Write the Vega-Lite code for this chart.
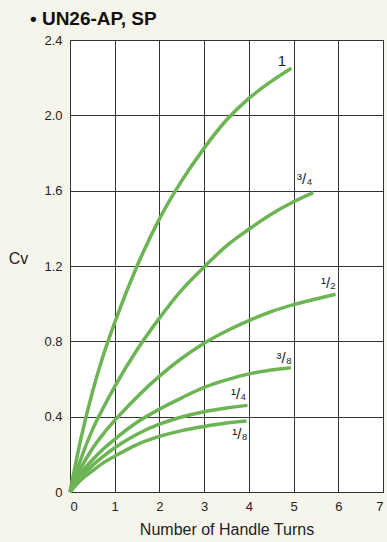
{
  "$schema": "https://vega.github.io/schema/vega-lite/v6.json",
  "width": 313,
  "height": 452,
  "autosize": {"type": "none"},
  "padding": {"left": 70, "top": 40, "right": 4, "bottom": 50},
  "background": "#f6f5ec",
  "config": {
    "view": {"fill": "white", "stroke": "#333", "strokeWidth": 1},
    "font": "Liberation Sans",
    "axis": {"gridColor": "#333", "gridOpacity": 1, "gridWidth": 1, "domain": false, "ticks": false, "labelColor": "#222", "titleColor": "#222", "labelFont": "Liberation Sans", "titleFont": "Liberation Sans", "labelFontSize": 13, "titleFontWeight": "normal", "titleFontSize": 16}
  },
  "title": {"text": "• UN26-AP, SP", "anchor": "start", "frame": "group", "fontSize": 19, "fontWeight": "bold", "font": "Liberation Sans", "color": "#111", "dx": -40, "offset": 0, "baseline": "alphabetic", "dy": 10},
  "datasets": {
    "curves": [
      {"c": "1", "x": 0, "y": 0}, {"c": "1", "x": 0.25, "y": 0.29}, {"c": "1", "x": 0.5, "y": 0.53}, {"c": "1", "x": 0.75, "y": 0.73}, {"c": "1", "x": 1.0, "y": 0.9}, {"c": "1", "x": 1.5, "y": 1.2}, {"c": "1", "x": 2.0, "y": 1.45}, {"c": "1", "x": 2.5, "y": 1.653}, {"c": "1", "x": 3.0, "y": 1.826}, {"c": "1", "x": 3.5, "y": 1.975}, {"c": "1", "x": 4.0, "y": 2.09}, {"c": "1", "x": 4.5, "y": 2.18}, {"c": "1", "x": 4.95, "y": 2.25},
      {"c": "3/4", "x": 0, "y": 0}, {"c": "3/4", "x": 0.25, "y": 0.18}, {"c": "3/4", "x": 0.5, "y": 0.33}, {"c": "3/4", "x": 0.75, "y": 0.45}, {"c": "3/4", "x": 1.0, "y": 0.56}, {"c": "3/4", "x": 1.5, "y": 0.755}, {"c": "3/4", "x": 2.0, "y": 0.923}, {"c": "3/4", "x": 2.5, "y": 1.073}, {"c": "3/4", "x": 3.0, "y": 1.195}, {"c": "3/4", "x": 3.5, "y": 1.307}, {"c": "3/4", "x": 4.0, "y": 1.395}, {"c": "3/4", "x": 4.5, "y": 1.475}, {"c": "3/4", "x": 5.0, "y": 1.541}, {"c": "3/4", "x": 5.44, "y": 1.59},
      {"c": "1/2", "x": 0, "y": 0}, {"c": "1/2", "x": 0.25, "y": 0.13}, {"c": "1/2", "x": 0.5, "y": 0.23}, {"c": "1/2", "x": 0.75, "y": 0.31}, {"c": "1/2", "x": 1.0, "y": 0.38}, {"c": "1/2", "x": 1.5, "y": 0.505}, {"c": "1/2", "x": 2.0, "y": 0.615}, {"c": "1/2", "x": 2.5, "y": 0.71}, {"c": "1/2", "x": 3.0, "y": 0.79}, {"c": "1/2", "x": 3.5, "y": 0.855}, {"c": "1/2", "x": 4.0, "y": 0.91}, {"c": "1/2", "x": 4.5, "y": 0.958}, {"c": "1/2", "x": 5.0, "y": 0.995}, {"c": "1/2", "x": 5.5, "y": 1.025}, {"c": "1/2", "x": 5.94, "y": 1.05},
      {"c": "3/8", "x": 0, "y": 0}, {"c": "3/8", "x": 0.25, "y": 0.1}, {"c": "3/8", "x": 0.5, "y": 0.17}, {"c": "3/8", "x": 0.75, "y": 0.23}, {"c": "3/8", "x": 1.0, "y": 0.28}, {"c": "3/8", "x": 1.5, "y": 0.37}, {"c": "3/8", "x": 2.0, "y": 0.44}, {"c": "3/8", "x": 2.5, "y": 0.5}, {"c": "3/8", "x": 3.0, "y": 0.555}, {"c": "3/8", "x": 3.5, "y": 0.595}, {"c": "3/8", "x": 4.0, "y": 0.627}, {"c": "3/8", "x": 4.5, "y": 0.648}, {"c": "3/8", "x": 4.94, "y": 0.66},
      {"c": "1/4", "x": 0, "y": 0}, {"c": "1/4", "x": 0.25, "y": 0.08}, {"c": "1/4", "x": 0.5, "y": 0.14}, {"c": "1/4", "x": 0.75, "y": 0.19}, {"c": "1/4", "x": 1.0, "y": 0.235}, {"c": "1/4", "x": 1.5, "y": 0.307}, {"c": "1/4", "x": 2.0, "y": 0.36}, {"c": "1/4", "x": 2.5, "y": 0.398}, {"c": "1/4", "x": 3.0, "y": 0.426}, {"c": "1/4", "x": 3.5, "y": 0.446}, {"c": "1/4", "x": 3.97, "y": 0.46},
      {"c": "1/8", "x": 0, "y": 0}, {"c": "1/8", "x": 0.25, "y": 0.065}, {"c": "1/8", "x": 0.5, "y": 0.112}, {"c": "1/8", "x": 0.75, "y": 0.156}, {"c": "1/8", "x": 1.0, "y": 0.19}, {"c": "1/8", "x": 1.5, "y": 0.252}, {"c": "1/8", "x": 2.0, "y": 0.295}, {"c": "1/8", "x": 2.5, "y": 0.326}, {"c": "1/8", "x": 3.0, "y": 0.348}, {"c": "1/8", "x": 3.5, "y": 0.366}, {"c": "1/8", "x": 3.95, "y": 0.377}
    ],
    "labels": [
      {"t": "1", "x": 4.74, "y": 2.29},
      {"t": "³/₄", "x": 5.25, "y": 1.66},
      {"t": "¹/₂", "x": 5.78, "y": 1.109},
      {"t": "³/₈", "x": 4.79, "y": 0.71},
      {"t": "¹/₄", "x": 3.77, "y": 0.519},
      {"t": "¹/₈", "x": 3.8, "y": 0.307}
    ]
  },
  "layer": [
    {
      "data": {"name": "curves"},
      "mark": {"type": "line", "color": "#6cb454", "strokeWidth": 3.5, "interpolate": "monotone", "strokeCap": "butt"},
      "encoding": {
        "x": {"field": "x", "type": "quantitative", "scale": {"domain": [0, 7], "nice": false},
          "axis": {"values": [0, 0.5, 1, 1.5, 2, 2.5, 3, 3.5, 4, 4.5, 5, 5.5, 6, 6.5, 7], "labelExpr": "datum.value % 1 === 0 ? format(datum.value, 'd') : ''", "title": "Number of Handle Turns", "labelPadding": 8, "titlePadding": 8}},
        "y": {"field": "y", "type": "quantitative", "scale": {"domain": [0, 2.4], "nice": false},
          "axis": {"values": [0, 0.4, 0.8, 1.2, 1.6, 2.0, 2.4], "labelExpr": "datum.value === 0 ? '0' : format(datum.value, '.1f')", "title": "Cv", "titleAngle": 0, "titleAlign": "center", "titleBaseline": "middle", "titleX": -52, "titleY": 218, "labelPadding": 8}},
        "detail": {"field": "c"}
      }
    },
    {
      "data": {"name": "labels"},
      "mark": {"type": "text", "fontSize": 15, "color": "#222", "font": "Liberation Sans", "align": "center", "baseline": "middle"},
      "encoding": {
        "x": {"field": "x", "type": "quantitative"},
        "y": {"field": "y", "type": "quantitative"},
        "text": {"field": "t"}
      }
    }
  ]
}
